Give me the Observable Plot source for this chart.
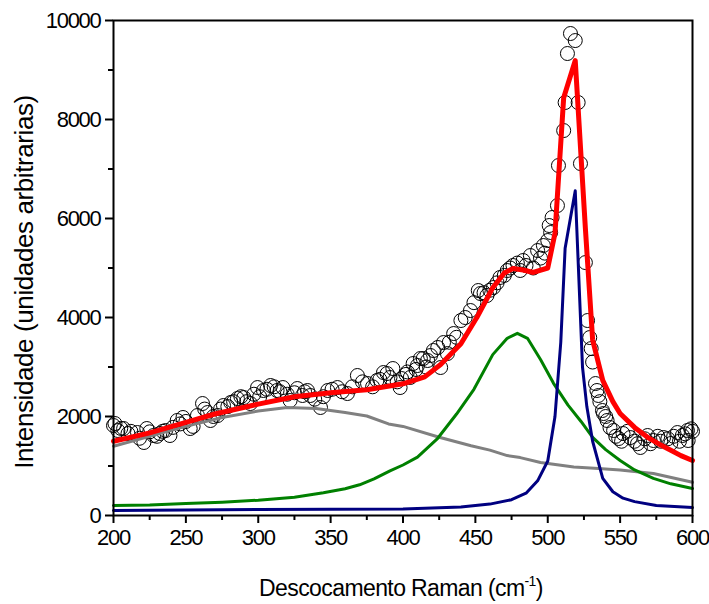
<!DOCTYPE html>
<html>
<head>
<meta charset="utf-8">
<script src="https://cdn.jsdelivr.net/npm/d3@7"></script>
<script src="https://cdn.jsdelivr.net/npm/@observablehq/plot@0.6"></script>
<style>
  html, body { margin: 0; padding: 0; background: #fff; }
  #chart { width: 709px; height: 604px; }
  #chart svg { overflow: visible; }
</style>
</head>
<body>
<div id="chart"></div>
<script>
// Experimental points (Raman shift, intensity)
const expX = [200,201,203,205,207,210,212,216.6,218,221,223,225,227.6,230,232,234,236,239,241,244,246,248,250,253,255,258,261.5,263,265,267,269,272,274,276,279,281,283,285.6,288,290,292,294.6,297,299.5,301,303.6,306,308.5,311,313,315,317,320,322,325,327,330.6,332,334,336,339,343,345,348,351,354.7,358,361.6,365,368.5,372,375.5,379,382,384,386.5,389,391,393,396,398,399,402,403,405,407,409,410,412,414,416,417,419,421,424,426,428,430.7,432,435,437,440,443,446.6,449,452,453.5,456,458,460,462.5,465,467,470,472,474,476,479,481,483,485,488,490,493,495,497,498,500,501,502,503,506.7,507.4,511,512,513.6,515.7,519,521,522.6,526,527.5,529,530,531,533,534,535,536,537.8,538.5,540,541,543,545.5,547,549,551,552,555,557,560,562,564,567,569,571,573,576,578,580,583,585,587,589.6,591,593,595,596.5,597,599,600];
const expY = [1818,1858,1717,1760,1757,1656,1700,1676,1560,1475,1757,1690,1616,1600,1656,1700,1717,1616,1780,1919,1850,1980,1900,1757,1800,2020,2262,2150,2080,1919,2000,2020,2150,2222,2200,2283,2300,2363,2400,2383,2300,2262,2450,2585,2400,2525,2550,2626,2600,2525,2500,2585,2450,2323,2480,2565,2424,2500,2525,2424,2350,2182,2400,2525,2550,2585,2500,2464,2600,2828,2700,2666,2600,2727,2750,2888,2868,2788,2969,2700,2585,2767,2850,2900,2788,3070,2950,3030,3171,3171,3000,3131,3232,3333,3394,2990,3494,3272,3500,3676,3600,3939,4000,4141,4300,4545,4484,4500,4444,4550,4606,4700,4808,4850,4949,5000,5050,5100,4950,5151,5050,5252,5000,5353,5200,5454,5300,5555,5858,5717,6020,6262,7070,7777,8343,9333,9737,9595,8343,7110,5110,3939,3595,3373,3100,2666,2525,2424,2300,2121,2060,2000,1919,1777,1717,1600,1555,1500,1656,1700,1575,1500,1450,1374,1550,1616,1450,1515,1600,1500,1575,1550,1454,1600,1676,1500,1616,1650,1717,1515,1750,1700];

// Fit (sum) - red
const fitX = [200,225,250,270,300,325,350,375,400,415,426,440,451,462,470,476,483,490,500,505,511,519,526,531,538,545,550,560,569,577,585,592,600];
const fitY = [1500,1670,1880,2050,2250,2400,2480,2540,2660,2800,3050,3470,4000,4600,4900,4990,4960,4910,5000,5700,8440,9190,5800,3550,2730,2300,2060,1780,1580,1440,1320,1210,1110];

// Broad amorphous component - gray
const grayX = [200,225,250,275,300,320,340,360,375,390,400,425,447,460,472,481,495,518,535,550,573,600];
const grayY = [1400,1600,1800,1980,2110,2180,2160,2080,2010,1850,1800,1580,1410,1320,1210,1170,1070,980,950,920,850,670];

// Nanocrystalline component - green
const greenX = [200,225,250,275,300,325,345,360,370,380,391,400,410,424,437,449,462,472,479,486,495,504,514,523,531,540,550,560,573,585,600];
const greenY = [200,210,240,270,310,370,460,540,620,740,900,1020,1180,1560,2050,2550,3250,3580,3680,3580,3150,2670,2230,1900,1580,1330,1110,920,750,640,545];

// Crystalline Si component - blue
const blueX = [200,300,400,440,460,475,485,493,500,505,509,512,519,524,527,531,538,545,552,560,575,600];
const blueY = [100,120,130,170,230,320,450,700,1100,2000,3500,5400,6560,3000,2200,1500,750,480,350,280,200,160];

const xMajor = [200,250,300,350,400,450,500,550,600];
const xMinor = [225,275,325,375,425,475,525,575];
const yMajor = [0,2000,4000,6000,8000,10000];
const yMinor = [1000,3000,5000,7000,9000];

const toRows = (xs, ys) => xs.map((x, i) => ({x, y: ys[i]}));
const exp = toRows(expX, expY);
const fit = toRows(fitX, fitY);
const gray = toRows(grayX, grayY);
const green = toRows(greenX, greenY);
const blue = toRows(blueX, blueY);

const FONT = "'Liberation Sans', Arial, sans-serif";

const plot = Plot.plot({
  width: 709,
  height: 604,
  marginLeft: 113,
  marginRight: 17,
  marginTop: 20,
  marginBottom: 89,
  style: {fontFamily: FONT, fontSize: "22px", background: "white", overflow: "visible", letterSpacing: "-1.3px"},
  x: {domain: [200, 600]},
  y: {domain: [0, 10000]},
  marks: [
    Plot.dot(exp, {x: "x", y: "y", r: 7, stroke: "black", strokeWidth: 1, fill: "none"}),
    Plot.line(gray, {x: "x", y: "y", stroke: "#808080", strokeWidth: 3}),
    Plot.line(green, {x: "x", y: "y", stroke: "#008000", strokeWidth: 3}),
    Plot.line(blue, {x: "x", y: "y", stroke: "#000080", strokeWidth: 3}),
    Plot.line(fit, {x: "x", y: "y", stroke: "#ff0000", strokeWidth: 5}),
    Plot.axisX(xMajor, {tickSize: 8, tickPadding: 6, strokeWidth: 2, label: null, tickFormat: d => String(d)}),
    Plot.axisX(xMinor, {tickSize: 5, strokeWidth: 2, label: null, tickFormat: () => ""}),
    Plot.axisY(yMajor, {tickSize: 8, tickPadding: 5, strokeWidth: 2, label: null, tickFormat: d => String(d)}),
    Plot.axisY(yMinor, {tickSize: 5, strokeWidth: 2, label: null, tickFormat: () => ""}),
    Plot.frame({stroke: "black", strokeWidth: 2})
  ]
});

document.getElementById("chart").appendChild(plot);

const svg = d3.select(plot);
const xt = svg.append("text")
  .attr("x", 401).attr("y", 596)
  .attr("text-anchor", "middle")
  .attr("font-family", FONT)
  .attr("font-size", 23)
  .attr("letter-spacing", "-0.6px")
  .attr("fill", "black");
xt.append("tspan").text("Descocamento Raman (cm");
xt.append("tspan").attr("font-size", 14).attr("dy", -10).text("-1");
xt.append("tspan").attr("dy", 10).text(")");

svg.append("text")
  .attr("transform", "translate(33,282) rotate(-90)")
  .attr("text-anchor", "middle")
  .attr("font-family", FONT)
  .attr("font-size", 26)
  .attr("letter-spacing", "-0.4px")
  .attr("fill", "black")
  .text("Intensidade (unidades arbitrarias)");
</script>
</body>
</html>
